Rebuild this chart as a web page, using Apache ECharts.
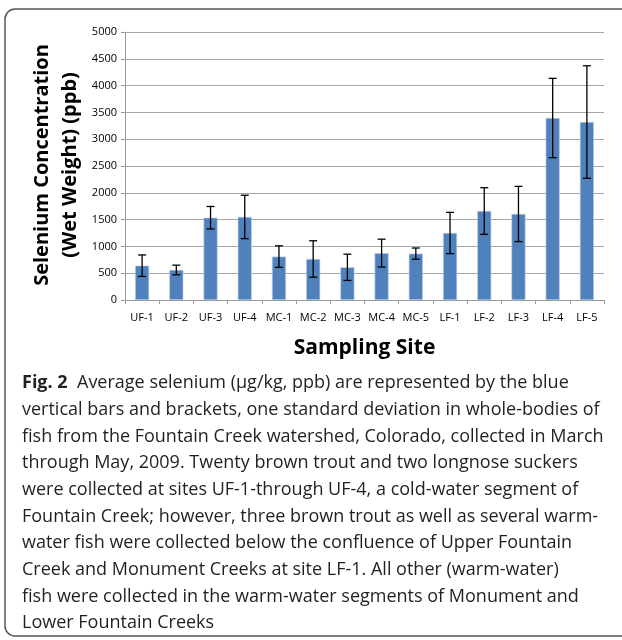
<!DOCTYPE html>
<html>
<head>
<meta charset="utf-8">
<script src="https://cdn.jsdelivr.net/npm/echarts@6/dist/echarts.min.js"></script>
<style>
  html, body { margin: 0; padding: 0; background: #fff; }
  #chart { width: 622px; height: 640px; }
</style>
</head>
<body>
<div id="chart"></div>
<script>
// sampling sites and selenium values (ppb)
var sites = ['UF-1', 'UF-2', 'UF-3', 'UF-4', 'MC-1', 'MC-2', 'MC-3', 'MC-4', 'MC-5', 'LF-1', 'LF-2', 'LF-3', 'LF-4', 'LF-5'];
var meanSe = [640, 560, 1535, 1550, 810, 765, 610, 875, 865, 1250, 1660, 1605, 3395, 3320];
var sdSe = [200, 90, 210, 405, 200, 340, 245, 260, 105, 385, 435, 515, 740, 1050];

var captionLines = [
  '{b|Fig. 2}  Average selenium (µg/kg, ppb) are represented by the blue',
  'vertical bars and brackets, one standard deviation in whole-bodies of',
  'fish from the Fountain Creek watershed, Colorado, collected in March',
  'through May, 2009. Twenty brown trout and two longnose suckers',
  'were collected at sites UF-1-through UF-4, a cold-water segment of',
  'Fountain Creek; however, three brown trout as well as several warm-',
  'water fish were collected below the confluence of Upper Fountain',
  'Creek and Monument Creeks at site LF-1. All other (warm-water)',
  'fish were collected in the warm-water segments of Monument and',
  'Lower Fountain Creeks'
];

var errData = sites.map(function (s, i) {
  return [i, meanSe[i] - sdSe[i], meanSe[i] + sdSe[i]];
});

var myChart = echarts.init(document.getElementById('chart'));

var graphics = [
  {
    type: 'rect',
    shape: { x: 5, y: 9, width: 640, height: 627, r: [10, 0, 0, 10] },
    style: { fill: 'none', stroke: '#555', lineWidth: 1.5 },
    silent: true
  },
  {
    type: 'text',
    x: 56, y: 165,
    rotation: Math.PI / 2,
    style: {
      text: 'Selenium Concentration\n(Wet Weight) (ppb)',
      font: 'bold 20px "Open Sans"',
      fill: '#000',
      align: 'center',
      verticalAlign: 'middle',
      lineHeight: 28
    }
  }
];
captionLines.forEach(function (line, i) {
  graphics.push({
    type: 'text',
    x: 22, y: 383 + i * 26.7,
    style: {
      text: line,
      font: '18px "Open Sans"',
      fill: '#231f20',
      verticalAlign: 'middle',
      rich: { b: { font: 'bold 18px "Open Sans"', fill: '#231f20' } }
    }
  });
});

myChart.setOption({
  animation: false,
  grid: { left: 125, right: 18, top: 32, bottom: 340 },
  xAxis: {
    type: 'category',
    data: sites,
    name: 'Sampling Site',
    nameLocation: 'middle',
    nameGap: 38,
    nameTextStyle: { fontFamily: 'Open Sans', fontWeight: 'bold', fontSize: 21, color: '#000' },
    axisLine: { lineStyle: { color: '#999' } },
    axisTick: { show: true, length: 4, lineStyle: { color: '#999' } },
    axisLabel: { interval: 0, fontFamily: 'Open Sans', fontSize: 11, color: '#000', margin: 12 }
  },
  yAxis: {
    type: 'value',
    min: 0,
    max: 5000,
    interval: 500,
    axisLine: { show: true, lineStyle: { color: '#999' } },
    axisTick: { show: true, length: 4, lineStyle: { color: '#999' } },
    axisLabel: {
      fontFamily: 'Open Sans', fontSize: 11, color: '#000', margin: 8,
      formatter: function (v) { return String(v); }
    },
    splitLine: { lineStyle: { color: '#a6a6a6' } }
  },
  series: [
    {
      type: 'bar',
      data: meanSe,
      barWidth: 14,
      itemStyle: { color: '#4f81bd', borderColor: '#bcd0ea', borderWidth: 0.6 }
    },
    {
      type: 'custom',
      data: errData,
      z: 10,
      renderItem: function (params, api) {
        var x = api.value(0);
        var lo = api.coord([x, api.value(1)]);
        var hi = api.coord([x, api.value(2)]);
        var cap = 4;
        var st = { stroke: '#000', lineWidth: 1.3 };
        return {
          type: 'group',
          children: [
            { type: 'line', shape: { x1: lo[0], y1: lo[1], x2: hi[0], y2: hi[1] }, style: st },
            { type: 'line', shape: { x1: hi[0] - cap, y1: hi[1], x2: hi[0] + cap, y2: hi[1] }, style: st },
            { type: 'line', shape: { x1: lo[0] - cap, y1: lo[1], x2: lo[0] + cap, y2: lo[1] }, style: st }
          ]
        };
      }
    }
  ],
  graphic: graphics
});
</script>
</body>
</html>
